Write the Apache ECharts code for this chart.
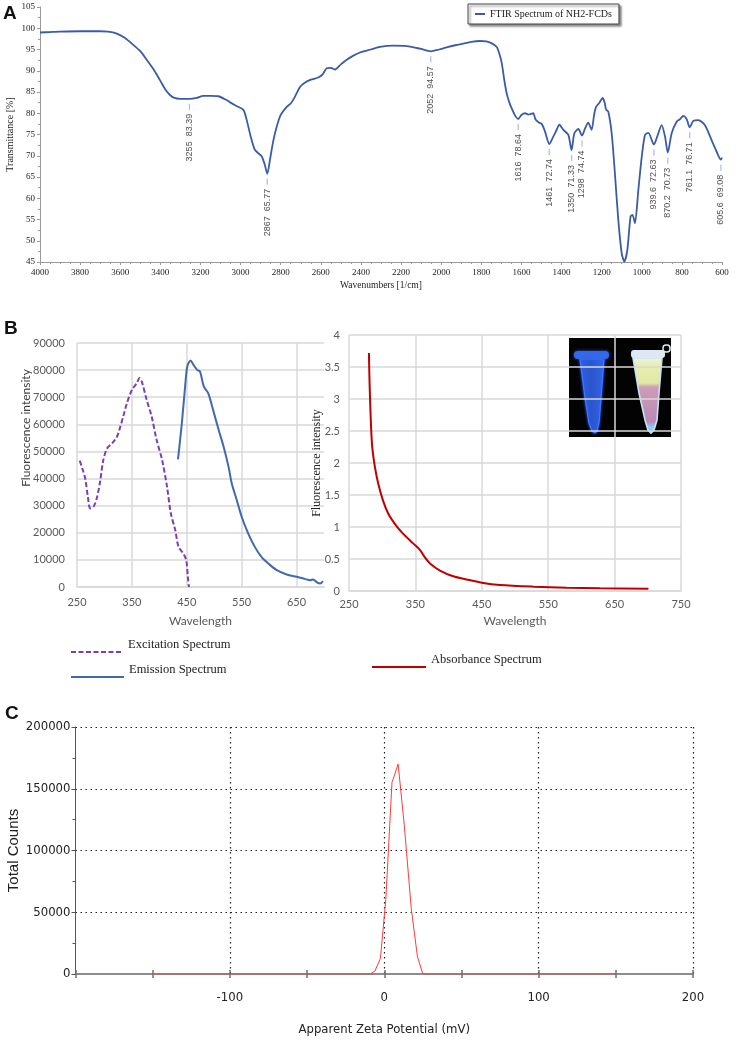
<!DOCTYPE html>
<html>
<head>
<meta charset="UTF-8">
<title>NH2-FCDs: FTIR, fluorescence and zeta potential</title>
<script src="https://cdn.jsdelivr.net/npm/echarts@6.0.0/dist/echarts.min.js"></script>
<style>
  html, body { margin: 0; padding: 0; background: #ffffff; }
  #main { width: 740px; height: 1040px; }
</style>
</head>
<body>
<div id="main"></div>
<script type="text/javascript">
// ---- A: FTIR spectrum ----
var ftirWavenumber = [4000, 3950, 3900, 3800, 3700, 3660, 3620, 3580, 3535, 3500, 3468, 3435, 3402, 3375, 3352, 3330, 3300, 3255,
  3220, 3186, 3150, 3111, 3070, 3050, 3020, 2986, 2970, 2950, 2930, 2912, 2895, 2880, 2867, 2852, 2837, 2820, 2800, 2770,
  2750, 2730, 2704, 2680, 2650, 2613, 2590, 2571, 2550, 2529, 2500, 2471, 2440, 2405, 2350, 2305, 2239, 2172, 2106, 2052,
  2010, 1973, 1930, 1890, 1850, 1807, 1775, 1750, 1723, 1710, 1698, 1686, 1674, 1660, 1649, 1632, 1616, 1600, 1582, 1565,
  1557, 1541, 1530, 1515, 1499, 1483, 1461, 1441, 1425, 1411, 1391, 1366, 1350, 1336, 1316, 1298, 1282, 1267, 1250, 1238,
  1228, 1212, 1195, 1185, 1178, 1167, 1150, 1134, 1117, 1100, 1087, 1072, 1056, 1046, 1034, 1017, 1000, 984, 967, 939.6,
  923, 901, 884, 870.2, 851, 826, 809, 793, 776, 761.1, 743, 718, 685, 652, 627, 605.6, 600];
var ftirTransmittance = [99.0, 99.1, 99.2, 99.3, 99.3, 99.2, 98.8, 97.8, 96.1, 94.6, 92.6, 90.4, 87.8, 85.6, 84.3, 83.6, 83.4, 83.39,
  83.6, 84.1, 84.1, 84.0, 83.1, 82.5, 81.7, 80.8, 78.5, 74.6, 71.5, 70.6, 69.9, 68.0, 65.77, 69.5, 73.5, 76.8, 79.6, 81.5,
  82.3, 83.8, 86.2, 87.2, 87.9, 88.4, 89.2, 90.6, 90.7, 90.3, 91.5, 92.6, 93.5, 94.3, 95.0, 95.6, 95.9, 95.8, 95.2, 94.57,
  95.0, 95.5, 96.0, 96.4, 96.8, 97.0, 96.9, 96.5, 95.6, 94.0, 91.8, 88.0, 84.8, 82.5, 81.2, 79.5, 78.64, 79.6, 80.0, 79.7,
  79.8, 80.0, 78.6, 77.9, 77.5, 75.8, 72.74, 74.5, 76.0, 77.3, 76.1, 74.9, 71.33, 75.3, 76.3, 74.74, 76.5, 77.8, 76.1, 79.5,
  81.5, 82.4, 83.6, 82.5, 80.9, 80.4, 75.3, 65.9, 54.9, 47.0, 45.1, 47.8, 55.7, 56.1, 54.1, 62.0, 69.8, 74.9, 75.4, 72.63,
  74.5, 77.2, 74.5, 70.73, 75.3, 78.0, 78.6, 79.4, 78.6, 76.71, 78.2, 78.4, 77.2, 73.7, 71.0, 69.08, 69.6];
var peakWavenumber = [3255, 2867, 2052, 1616, 1461, 1350, 1298, 939.6, 870.2, 761.1, 605.6];
var peakTransmittance = [83.39, 65.77, 94.57, 78.64, 72.74, 71.33, 74.74, 72.63, 70.73, 76.71, 69.08];

// ---- B: excitation / emission / absorbance ----
var exWavelength = [255, 260, 265, 270, 274, 280, 286, 292, 298, 305, 314, 323, 329, 335, 341, 350, 359, 364, 368, 377, 386,
  395, 405, 414, 421, 429, 435, 444, 449, 452, 454];
var exIntensity = [46600, 43500, 40000, 33000, 29000, 29600, 32700, 38800, 46900, 51200, 53000, 55500, 59200, 63500, 67800,
  72700, 75200, 77100, 75800, 69000, 62900, 54300, 46900, 37000, 27100, 21000, 14800, 12300, 9900, 3700, 0];
var emWavelength = [434, 441, 447, 451, 457, 462, 469, 474, 481, 489, 498, 508, 517, 526, 532, 541, 550, 562, 574, 586, 599,
  614, 632, 650, 665, 675, 680, 688, 693, 698];
var emIntensity = [47100, 60400, 74000, 81400, 83500, 82000, 80100, 79500, 74000, 71500, 65300, 58000, 51800, 44400, 38200,
  32100, 25900, 19700, 14800, 11100, 8600, 6200, 4600, 3800, 3000, 2500, 2800, 1600, 1300, 2200];
var abWavelength = [280, 281, 283, 285, 289, 294, 301, 309, 319, 331, 347, 357, 364, 372, 387, 407, 427, 452, 477, 528, 578, 628, 701];
var abAbsorbance = [3.72, 3.24, 2.62, 2.25, 1.94, 1.68, 1.42, 1.21, 1.05, 0.90, 0.74, 0.64, 0.53, 0.43, 0.32, 0.23, 0.18,
  0.125, 0.094, 0.068, 0.052, 0.042, 0.037];

// ---- C: zeta potential ----
var zetaPotential = [-150, -9, -6, -2.5, 1, 5, 9, 13, 17.5, 21.5, 25, 150];
var zetaCounts = [0, 0, 2500, 12500, 60000, 155000, 170000, 120000, 53000, 14000, 0, 0];

var myChart = echarts.init(document.getElementById('main'));

function pairs(xs, ys) {
    return xs.map(function (x, i) { return [x, ys[i]]; });
}
// no thousands separators on the tick labels
function plain(v) { return String(v); }

var peakData = peakWavenumber.map(function (w, i) {
    return { name: w + '  ' + peakTransmittance[i].toFixed(2), value: [w, peakTransmittance[i]] };
});

var serif = '"Liberation Serif", "DejaVu Serif", serif';
var sans = 'Lato, "Liberation Sans", sans-serif';
var arial = '"Liberation Sans", Arial, sans-serif';
var narrow = '"Liberation Sans Narrow", "DejaVu Sans Condensed", sans-serif';
var excelGrey = '#d9d9d9';
var dotted = { color: '#222', width: 1.2, type: [1.5, 3.5] };

var option = {
    backgroundColor: '#ffffff',
    animation: false,
    grid: [
        { left: 40, top: 7, width: 682, height: 255, outerBoundsMode: 'none' },
        { left: 77, top: 343, width: 247, height: 244, outerBoundsMode: 'none' },
        { left: 349, top: 335, width: 332, height: 256, outerBoundsMode: 'none' },
        { left: 75.5, top: 727, width: 617.5, height: 247, outerBoundsMode: 'none' }
    ],
    xAxis: [
        {   // A
            gridIndex: 0, type: 'value', inverse: true, min: 600, max: 4000, interval: 200,
            name: 'Wavenumbers [1/cm]', nameLocation: 'middle', nameGap: 18, nameMoveOverlap: false,
            nameTextStyle: { fontFamily: serif, fontSize: 9.5, color: '#222' },
            axisLine: { show: true, onZero: false, lineStyle: { color: '#9a9a9a', width: 1 } },
            axisTick: { show: true, length: 3, lineStyle: { color: '#9a9a9a' } },
            minorTick: { show: true, splitNumber: 4, length: 2, lineStyle: { color: '#9a9a9a' } },
            axisLabel: { fontFamily: serif, fontSize: 9, color: '#222', margin: 6, formatter: plain },
            splitLine: { show: false }
        },
        {   // B left
            gridIndex: 1, type: 'value', min: 250, max: 700, interval: 100,
            name: 'Wavelength', nameLocation: 'middle', nameGap: 28, nameMoveOverlap: false,
            nameTextStyle: { fontFamily: sans, fontSize: 12, color: '#595959' },
            axisLine: { show: true, onZero: false, lineStyle: { color: excelGrey, width: 1.5 } },
            axisTick: { show: false },
            axisLabel: { fontFamily: sans, fontSize: 11, color: '#595959', margin: 10, showMaxLabel: false, formatter: plain },
            splitLine: { show: true, showMaxLine: false, lineStyle: { color: excelGrey, width: 1.5 } }
        },
        {   // B right
            gridIndex: 2, type: 'value', min: 250, max: 750, interval: 100,
            name: 'Wavelength', nameLocation: 'middle', nameGap: 24, nameMoveOverlap: false,
            nameTextStyle: { fontFamily: sans, fontSize: 12, color: '#595959' },
            axisLine: { show: true, onZero: false, lineStyle: { color: excelGrey, width: 1.5 } },
            axisTick: { show: false },
            axisLabel: { fontFamily: sans, fontSize: 11, color: '#595959', margin: 8, formatter: plain },
            splitLine: { show: true, lineStyle: { color: excelGrey, width: 1.5 } }
        },
        {   // C labels and grid
            gridIndex: 3, type: 'value', position: 'bottom', min: -200, max: 200, interval: 100,
            name: 'Apparent Zeta Potential (mV)', nameLocation: 'middle', nameGap: 49, nameMoveOverlap: false,
            nameTextStyle: { fontFamily: narrow, fontSize: 13, color: '#222' },
            axisLine: { show: true, onZero: false, lineStyle: { color: '#8c8c8c', width: 2 } },
            axisTick: { show: false },
            axisLabel: {
                fontFamily: narrow, fontSize: 13, color: '#222', margin: 17,
                formatter: function (v) { return v === -200 ? '' : String(v); }
            },
            splitLine: { show: true, showMinLine: false, lineStyle: dotted }
        },
        {   // C ticks below the axis
            gridIndex: 3, type: 'value', position: 'bottom', offset: 0, min: -200, max: 200, interval: 50,
            axisLine: { show: false, onZero: false }, axisLabel: { show: false }, splitLine: { show: false },
            axisTick: { show: true, length: 4, lineStyle: { color: '#707070', width: 1.5 } }
        },
        {   // C ticks above the axis
            gridIndex: 3, type: 'value', position: 'bottom', offset: 0, min: -200, max: 200, interval: 50,
            axisLine: { show: false, onZero: false }, axisLabel: { show: false }, splitLine: { show: false },
            axisTick: { show: true, inside: true, length: 4, lineStyle: { color: '#707070', width: 1.5 } }
        }
    ],
    yAxis: [
        {   // A
            gridIndex: 0, type: 'value', min: 45, max: 105, interval: 5,
            name: 'Transmittance [%]', nameLocation: 'middle', nameGap: 25, nameRotate: 90, nameMoveOverlap: false,
            nameTextStyle: { fontFamily: serif, fontSize: 10, color: '#222' },
            axisLine: { show: true, onZero: false, lineStyle: { color: '#9a9a9a', width: 1 } },
            axisTick: { show: true, length: 3, lineStyle: { color: '#9a9a9a' } },
            minorTick: { show: true, splitNumber: 2, length: 2, lineStyle: { color: '#9a9a9a' } },
            axisLabel: { fontFamily: serif, fontSize: 9, color: '#222', margin: 5, formatter: plain },
            splitLine: { show: false }
        },
        {   // B left
            gridIndex: 1, type: 'value', min: 0, max: 90000, interval: 10000,
            name: 'Fluorescence intensity', nameLocation: 'middle', nameGap: 45, nameRotate: 90, nameMoveOverlap: false,
            nameTextStyle: { fontFamily: sans, fontSize: 12, color: '#404040', padding: [0, 0, 0, 74] },
            axisLine: { show: false, onZero: false }, axisTick: { show: false },
            axisLabel: { fontFamily: sans, fontSize: 11, color: '#595959', margin: 12, formatter: plain },
            splitLine: { show: true, lineStyle: { color: excelGrey, width: 1.5 } }
        },
        {   // B right
            gridIndex: 2, type: 'value', min: 0, max: 4, interval: 0.5,
            name: 'Fluorescence intensity', nameLocation: 'middle', nameGap: 26, nameRotate: 90, nameMoveOverlap: false,
            nameTextStyle: { fontFamily: serif, fontSize: 12, color: '#222' },
            axisLine: { show: false, onZero: false }, axisTick: { show: false },
            axisLabel: { fontFamily: sans, fontSize: 11, color: '#595959', margin: 9, formatter: plain },
            splitLine: { show: true, lineStyle: { color: excelGrey, width: 1.5 } }
        },
        {   // C
            gridIndex: 3, type: 'value', min: 0, max: 200000, interval: 50000,
            name: 'Total Counts', nameLocation: 'middle', nameGap: 54, nameRotate: 90, nameMoveOverlap: false,
            nameTextStyle: { fontFamily: arial, fontSize: 15, color: '#222' },
            axisLine: { show: true, onZero: false, lineStyle: { color: '#555', width: 1 } },
            axisTick: { show: true, length: 4, lineStyle: { color: '#555' } },
            minorTick: { show: true, splitNumber: 2, length: 3, lineStyle: { color: '#555' } },
            axisLabel: { fontFamily: narrow, fontSize: 13, color: '#222', margin: 5, formatter: plain },
            splitLine: { show: true, showMinLine: false, lineStyle: dotted }
        }
    ],
    legend: [
        {
            data: ['FTIR Spectrum of NH2-FCDs'], left: 468, top: 4, selectedMode: false,
            icon: 'rect', itemWidth: 10, itemHeight: 2, padding: [5, 7, 5, 7],
            backgroundColor: '#fff', borderColor: '#444', borderWidth: 1,
            shadowColor: 'rgba(0,0,0,0.45)', shadowBlur: 2, shadowOffsetX: 2, shadowOffsetY: 2,
            textStyle: { fontFamily: serif, fontSize: 10, color: '#222' }
        },
        {
            data: ['Excitation Spectrum'], left: 70, top: 637, selectedMode: false, padding: 0,
            itemWidth: 52, itemHeight: 14, itemStyle: { opacity: 0 },
            formatter: function (name) { return name + '\n '; },
            textStyle: { fontFamily: serif, fontSize: 12.5, lineHeight: 15, color: '#222' }
        },
        {
            data: ['Emission Spectrum'], left: 70, top: 662, selectedMode: false, padding: 0,
            itemWidth: 53, itemHeight: 14, itemStyle: { opacity: 0 },
            formatter: function (name) { return name + '\n '; },
            textStyle: { fontFamily: serif, fontSize: 12.5, lineHeight: 15, color: '#222' }
        },
        {
            data: ['Absorbance Spectrum'], left: 371, top: 652, selectedMode: false, padding: 0,
            itemWidth: 54, itemHeight: 14, itemStyle: { opacity: 0 },
            formatter: function (name) { return name + '\n '; },
            textStyle: { fontFamily: serif, fontSize: 12.5, lineHeight: 15, color: '#222' }
        }
    ],
    graphic: [
        { type: 'text', left: 3, top: 4, style: { text: 'A', font: 'bold 19px ' + arial, fill: '#111' } },
        { type: 'text', left: 4, top: 319, style: { text: 'B', font: 'bold 19px ' + arial, fill: '#111' } },
        { type: 'text', left: 5, top: 704, style: { text: 'C', font: 'bold 19px ' + arial, fill: '#111' } },
        {   // inset photo of the two tubes under UV light
            type: 'group', left: 569, top: 338, silent: true,
            children: [
                { type: 'rect', shape: { x: 0, y: 0, width: 102, height: 99 }, style: { fill: '#030303' } },
                {   // blue tube
                    type: 'polygon',
                    shape: { points: [[11, 21], [35, 21], [32, 60], [30, 85], [28, 93], [26, 95], [23, 93], [20, 85], [16, 60]] },
                    style: {
                        fill: new echarts.graphic.LinearGradient(0, 0, 1, 0, [
                            { offset: 0, color: '#2f62e6' }, { offset: 0.45, color: '#2a55cc' }, { offset: 1, color: '#3366e8' }
                        ]),
                        stroke: '#3f78ff', lineWidth: 1.2, shadowBlur: 3, shadowColor: '#2a5cff'
                    }
                },
                {
                    type: 'rect', shape: { x: 5, y: 13, width: 35, height: 8, r: 4 },
                    style: { fill: '#3468ea', shadowBlur: 3, shadowColor: '#2a5cff' }
                },
                {   // pale tube with pink contents
                    type: 'polygon',
                    shape: { points: [[64, 20], [93, 20], [90, 55], [88, 82], [85, 92], [82, 95], [79, 92], [76, 82], [70, 55]] },
                    style: {
                        fill: new echarts.graphic.LinearGradient(0, 0, 0, 1, [
                            { offset: 0, color: '#eef3e4' }, { offset: 0.1, color: '#e8efb0' },
                            { offset: 0.34, color: '#e0e6a6' }, { offset: 0.39, color: '#cf9cb6' },
                            { offset: 0.84, color: '#b98ab8' }, { offset: 0.92, color: '#8fd0f0' },
                            { offset: 1, color: '#49c4ff' }
                        ]),
                        stroke: '#c6e4f6', lineWidth: 1.6
                    }
                },
                {
                    type: 'rect', shape: { x: 62, y: 12, width: 34, height: 8, r: 3 },
                    style: { fill: '#dfe7f4' }
                },
                {
                    type: 'rect', shape: { x: 94, y: 7, width: 7, height: 7, r: 3 },
                    style: { fill: 'none', stroke: '#e3eaf2', lineWidth: 1.5 }
                }
            ]
        }
    ],
    series: [
        {
            name: 'FTIR Spectrum of NH2-FCDs', type: 'line', xAxisIndex: 0, yAxisIndex: 0,
            data: pairs(ftirWavenumber, ftirTransmittance), symbol: 'none', smooth: 0.25,
            lineStyle: { color: '#3a5ca6', width: 1.8 }, itemStyle: { color: '#3a5ca6' }, silent: true
        },
        {
            name: 'FTIR peaks', type: 'scatter', xAxisIndex: 0, yAxisIndex: 0, data: peakData,
            symbol: 'rect', symbolSize: [1.3, 6], symbolOffset: [0, 8],
            itemStyle: { color: '#9bb0d8' }, silent: true,
            label: {
                show: true, formatter: function (p) { return p.name; },
                rotate: 90, position: 'bottom', distance: 4, align: 'right', verticalAlign: 'middle',
                fontFamily: arial, fontSize: 9, color: '#222'
            }
        },
        {
            name: 'Excitation Spectrum', type: 'line', xAxisIndex: 1, yAxisIndex: 1,
            data: pairs(exWavelength, exIntensity), symbol: 'none', smooth: 0.3,
            lineStyle: { color: '#7b3fb0', width: 2, type: [5, 2.5] }, itemStyle: { color: '#7b3fb0' }, silent: true
        },
        {
            name: 'Emission Spectrum', type: 'line', xAxisIndex: 1, yAxisIndex: 1,
            data: pairs(emWavelength, emIntensity), symbol: 'none', smooth: 0.3,
            lineStyle: { color: '#4169b0', width: 2 }, itemStyle: { color: '#4169b0' }, silent: true
        },
        {
            name: 'Absorbance Spectrum', type: 'line', xAxisIndex: 2, yAxisIndex: 2,
            data: pairs(abWavelength, abAbsorbance), symbol: 'none', smooth: 0.3,
            lineStyle: { color: '#c00000', width: 2 }, itemStyle: { color: '#c00000' }, silent: true
        },
        {
            name: 'Zeta potential', type: 'line', xAxisIndex: 3, yAxisIndex: 3,
            data: pairs(zetaPotential, zetaCounts), symbol: 'none',
            lineStyle: { color: '#ff3b3b', width: 1 }, itemStyle: { color: '#ff3b3b' }, silent: true, z: 5
        }
    ]
};

myChart.setOption(option);
</script>
</body>
</html>
